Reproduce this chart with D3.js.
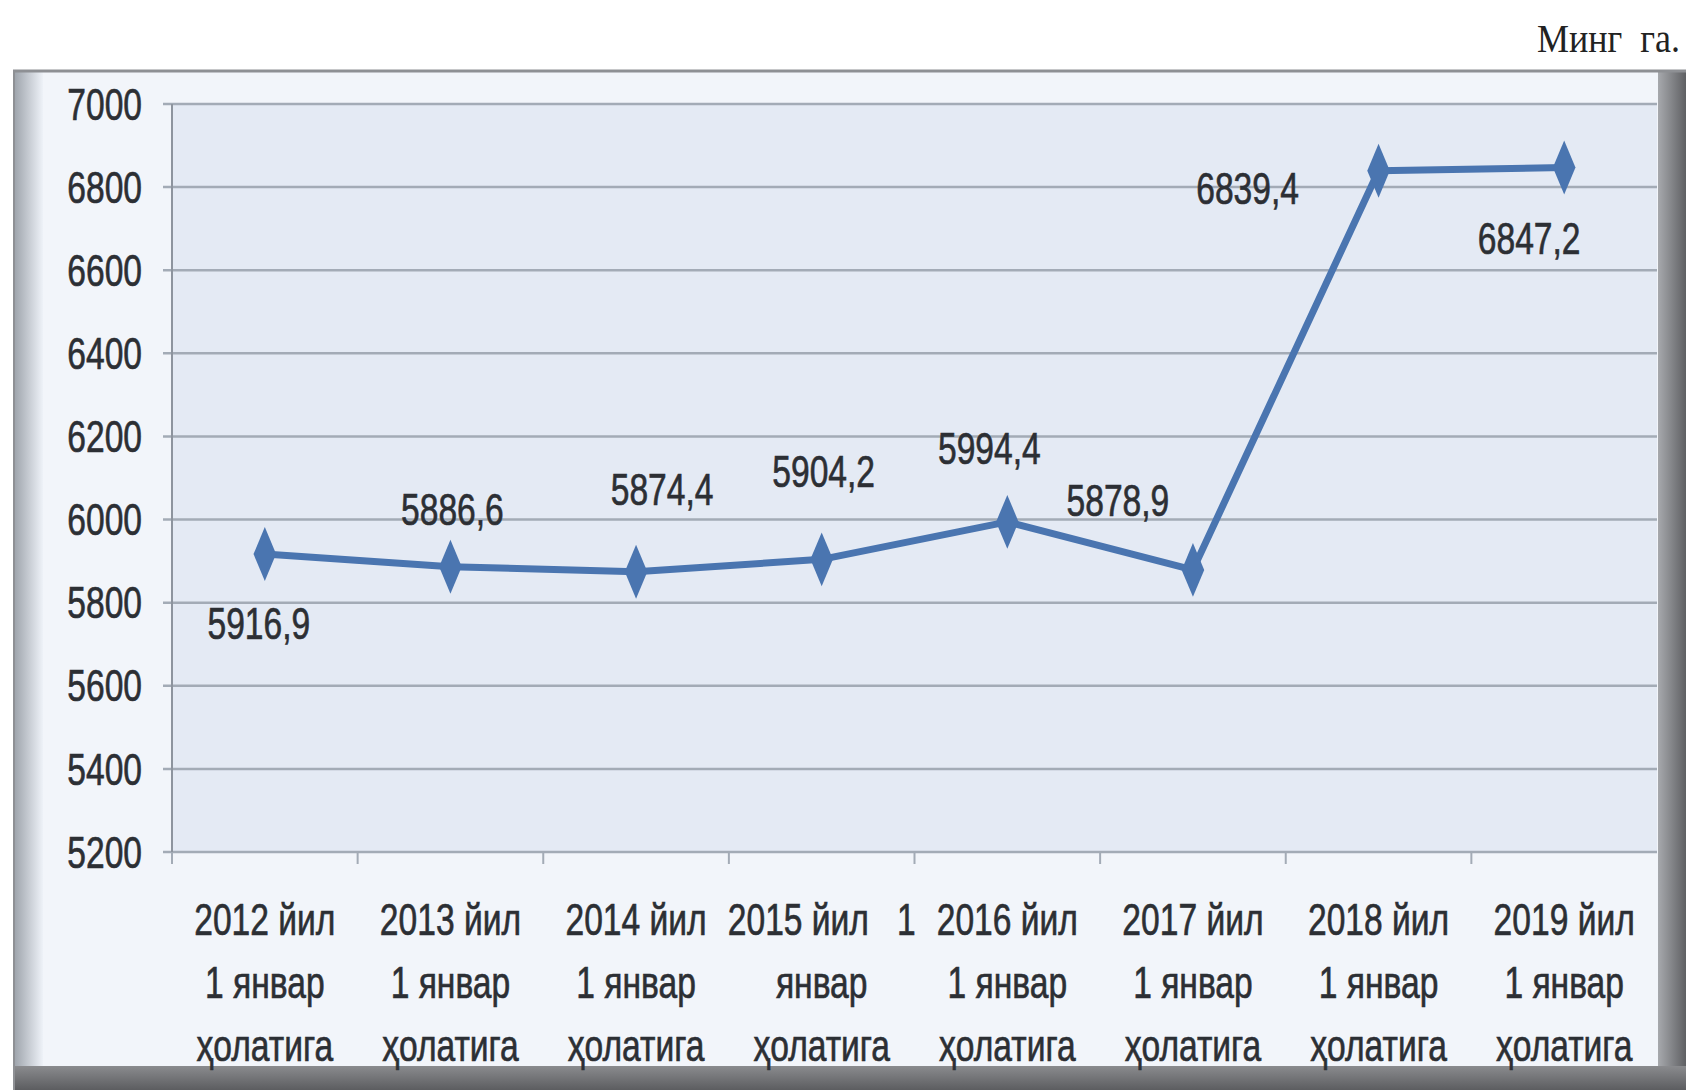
<!DOCTYPE html>
<html>
<head>
<meta charset="utf-8">
<script src="https://cdn.jsdelivr.net/npm/d3@7"></script>
<style>
html, body { margin: 0; padding: 0; background: #fff; }
svg text { white-space: pre; }
</style>
</head>
<body>
<div id="chart"></div>
<script>
// ---- data ----
var years = ["2012", "2013", "2014", "2015", "2016", "2017", "2018", "2019"];
var categoryLines = [
    ["2012 йил", "1 январ", "ҳолатига"],
    ["2013 йил", "1 январ", "ҳолатига"],
    ["2014 йил", "1 январ", "ҳолатига"],
    ["2015 йил   1", "январ", "ҳолатига"],
    ["2016 йил", "1 январ", "ҳолатига"],
    ["2017 йил", "1 январ", "ҳолатига"],
    ["2018 йил", "1 январ", "ҳолатига"],
    ["2019 йил", "1 январ", "ҳолатига"]
];
var values = [5916.9, 5886.6, 5874.4, 5904.2, 5994.4, 5878.9, 6839.4, 6847.2];
var valueLabels = ["5916,9", "5886,6", "5874,4", "5904,2", "5994,4", "5878,9", "6839,4", "6847,2"];
var yTicks = [5200, 5400, 5600, 5800, 6000, 6200, 6400, 6600, 6800, 7000];
var unitText = "Минг  га.";

// label nudges in px (manual placement as in the original)
var labelShift = [[-6, 69], [2, -57], [26, -82], [2, -88], [-18, -74], [-75, -70], [-131, 18], [-35, 71]];

var W = 1686, H = 1090;
var plot = {left: 172, right: 1657, top: 104, bottom: 852};
var FONT = "'Liberation Sans', Arial, sans-serif";
var SX = 0.84, SY = 1.12;   // scan text is narrow and a bit tall
var textCol = "#2c2f34";

function at(px, py) {
    return "translate(" + px + "," + py + ") scale(" + SX + "," + SY + ")";
}

var svg = d3.select("#chart").append("svg")
    .attr("width", W)
    .attr("height", H);

var defs = svg.append("defs");
var gl = defs.append("linearGradient").attr("id", "leftBevel");
gl.append("stop").attr("offset", "0%").attr("stop-color", "#9aa0a8");
gl.append("stop").attr("offset", "100%").attr("stop-color", "#eef2f8");
var gr = defs.append("linearGradient").attr("id", "rightBevel");
gr.append("stop").attr("offset", "0%").attr("stop-color", "#a7a9ad");
gr.append("stop").attr("offset", "100%").attr("stop-color", "#5f6063");
var gb = defs.append("linearGradient").attr("id", "bottomBevel").attr("x2", 0).attr("y2", 1);
gb.append("stop").attr("offset", "0%").attr("stop-color", "#8a8b8e");
gb.append("stop").attr("offset", "100%").attr("stop-color", "#5c5d60");

// frame
svg.append("rect").attr("x", 13).attr("y", 70).attr("width", W - 13).attr("height", H - 70)
    .attr("fill", "#f2f5fa");
svg.append("rect").attr("x", 13).attr("y", 70).attr("width", 30).attr("height", H - 70)
    .attr("fill", "url(#leftBevel)");
svg.append("rect").attr("x", 1658).attr("y", 70).attr("width", 28).attr("height", H - 70)
    .attr("fill", "url(#rightBevel)");
svg.append("rect").attr("x", 13).attr("y", 1066).attr("width", W - 13).attr("height", 24)
    .attr("fill", "url(#bottomBevel)");
svg.append("line").attr("x1", 13).attr("x2", W).attr("y1", 71).attr("y2", 71)
    .style("stroke", "#8e9094").style("stroke-width", 3);
svg.append("line").attr("x1", 14).attr("x2", 14).attr("y1", 70).attr("y2", H)
    .style("stroke", "#8e9094").style("stroke-width", 2);

// unit
svg.append("text")
    .attr("transform", "translate(1680,52) scale(1," + SY + ")")
    .attr("text-anchor", "end")
    .attr("font-family", "'Liberation Serif', serif")
    .attr("font-size", 36)
    .attr("fill", "#222")
    .text(unitText);

// scales
var x = d3.scaleBand().domain(years).range([plot.left, plot.right]).padding(0);
var y = d3.scaleLinear().domain([5200, 7000]).range([plot.bottom, plot.top]);

// plot area
svg.append("rect")
    .attr("x", plot.left).attr("y", plot.top)
    .attr("width", plot.right - plot.left).attr("height", plot.bottom - plot.top)
    .attr("fill", "#e4eaf4");

// grid
svg.append("g").selectAll("line")
    .data(yTicks)
    .enter().append("line")
    .attr("x1", plot.left - 9).attr("x2", plot.right)
    .attr("y1", d => y(d)).attr("y2", d => y(d))
    .style("stroke", "#a3abb6")
    .style("stroke-width", 2.5);

// axes lines
svg.append("line").attr("x1", plot.left).attr("x2", plot.left)
    .attr("y1", plot.top).attr("y2", plot.bottom + 10)
    .style("stroke", "#8d949e").style("stroke-width", 2);
svg.append("g").selectAll("line")
    .data(years)
    .enter().append("line")
    .attr("x1", d => x(d)).attr("x2", d => x(d))
    .attr("y1", plot.bottom).attr("y2", plot.bottom + 12)
    .style("stroke", "#a3abb6").style("stroke-width", 2);

// y labels
svg.append("g").selectAll("text")
    .data(yTicks)
    .enter().append("text")
    .attr("transform", d => at(142, y(d)))
    .attr("text-anchor", "end")
    .attr("dy", "0.35em")
    .attr("font-family", FONT)
    .attr("font-size", 40)
    .attr("fill", textCol)
    .style("stroke", textCol).style("stroke-width", 0.6)
    .text(d => d);

// x labels
var lineY = [919, 982, 1045];
var xl = svg.append("g").selectAll("g")
    .data(categoryLines)
    .enter().append("g");
xl.selectAll("text")
    .data((d, i) => d.map((t, k) => ({t: t, k: k, i: i})))
    .enter().append("text")
    .attr("transform", d => at(x(years[d.i]) + x.bandwidth() / 2, lineY[d.k]))
    .attr("text-anchor", "middle")
    .attr("dy", "0.35em")
    .attr("font-family", FONT)
    .attr("font-size", 40)
    .attr("fill", textCol)
    .style("stroke", textCol).style("stroke-width", 0.6)
    .text(d => d.t);

// line
var cx = i => x(years[i]) + x.bandwidth() / 2;
var line = d3.line()
    .x((d, i) => cx(i))
    .y(d => y(d));
svg.append("path")
    .datum(values)
    .attr("d", line)
    .style("fill", "none")
    .style("stroke", "#4a75b0")
    .style("stroke-width", 7)
    .style("stroke-linejoin", "round");

// diamonds
var diamond = d3.symbol().type(d3.symbolDiamond).size(400);
svg.append("g").selectAll("path")
    .data(values)
    .enter().append("path")
    .attr("d", diamond)
    .attr("transform", (d, i) => "translate(" + cx(i) + "," + y(d) + ") scale(1.05,1.45)")
    .attr("fill", "#4a75b0");

// value labels
svg.append("g").selectAll("text")
    .data(values)
    .enter().append("text")
    .attr("transform", (d, i) => at(cx(i) + labelShift[i][0], y(d) + labelShift[i][1]))
    .attr("text-anchor", "middle")
    .attr("dy", "0.35em")
    .attr("font-family", FONT)
    .attr("font-size", 40)
    .attr("fill", textCol)
    .style("stroke", textCol).style("stroke-width", 0.6)
    .text((d, i) => valueLabels[i]);
</script>
</body>
</html>
